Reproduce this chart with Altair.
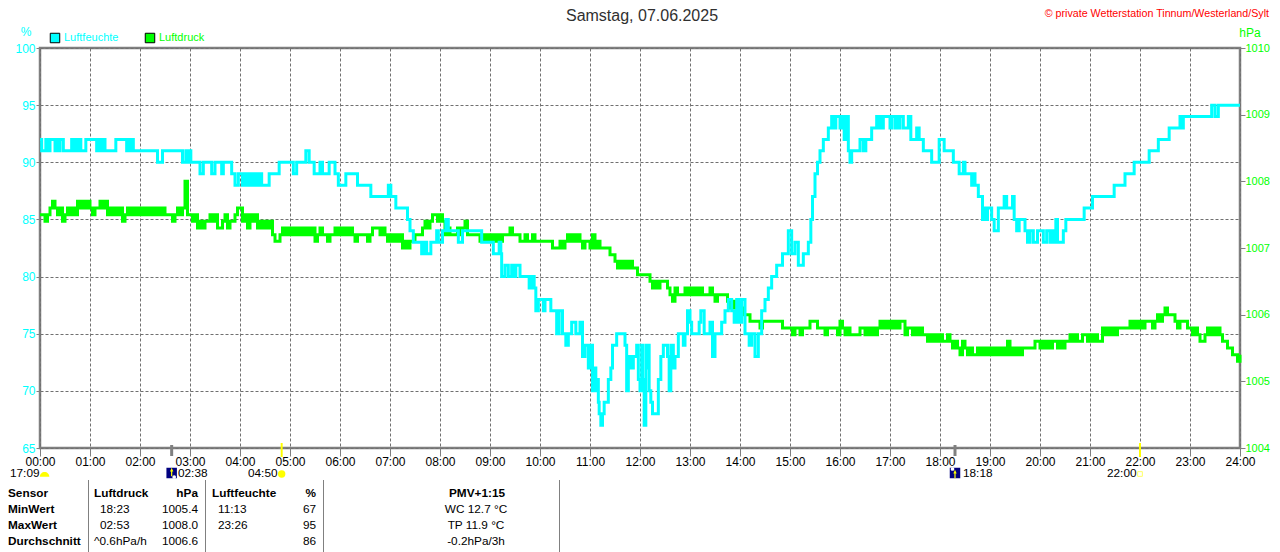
import altair as alt
import pandas as pd

FONT = "Liberation Sans"
GRAY = "#808080"
GRID = "#707070"
CYAN = "#00FFFF"
LIME = "#00FF00"

# (minute of day, % relative humidity)
humidity = [
 (0,92),(2,91),(7,92),(10,91),(12,92),(18,91),(21,92),(23,91),(24,92),(28,91),(38,92),(40,91),(42,92),(44,91),
 (46,92),(49,91),(55,92),(68,91),(71,92),(73,91),(75,92),(78,91),(91,92),(104,91),(106,92),(108,91),(110,92),
 (112,91),(141,90),(147,91),(171,90),(175,91),(177,90),(179,91),(181,90),(192,89),(196,90),(206,89),(210,90),
 (218,89),(220,90),(230,89),(234,88),(238,89),(243,88),(246,89),(249,88),(251,89),(253,88),(256,89),(258,88),
 (260,89),(262,88),(264,89),(266,88),(275,89),(287,90),(304,89),(308,90),(319,91),(323,90),(329,89),(336,90),
 (339,89),(347,90),(354,89),(358,88),(367,89),(381,88),(397,87),(418,88),(421,87),(427,86),(441,85),(444,84),
 (448,83),(458,82),(461,83),(464,82),(469,83),(476,84),(478,83),(483,84),(487,85),(490,84),(502,83),(507,84),
 (530,83),(544,82),(551,83),(553,82),(554,80),(558,81),(562,80),(566,81),(568,80),(571,81),(576,80),(587,79),
 (590,80),(593,79),(595,77),(598,78),(604,77),(606,78),(613,77),(620,75),(623,77),(627,75),(631,74),(634,75),
 (638,76),(643,75),(648,76),(651,73),(654,74),(658,72),(660,74),(663,70),(665,72),(667,70),(669,71),(670,69),
 (671,68),(673,67),(675,68),(677,69),(682,71),(685,72),(687,74),(692,75),(702,74),(704,70),(706,73),(709,72),
 (712,73),(716,74),(718,71),(720,70),(722,74),(723,71),(725,67),(727,74),(728,72),(729,74),(731,70),(733,69),
 (735,68),(742,71),(745,73),(748,74),(753,73),(755,70),(757,74),(760,72),(762,73),(766,75),(772,74),(774,75),
 (777,77),(780,76),(782,75),(788,75),(791,76),(793,77),(797,75),(804,76),(807,73),(810,75),(818,76),(822,77),
 (826,78),(830,77),(833,76),(836,78),(839,76),(842,78),(846,75),(851,74),(854,75),(858,73),(862,75),(866,77),
 (870,78),(874,79),(878,80),(884,81),(891,82),(898,84),(902,82),(906,83),(910,81),(916,82),(922,83),(925,85),
 (927,87),(930,89),(933,90),(936,91),(940,92),(946,93),(950,94),(952,93),(955,94),(960,93),(963,94),(965,92),
 (967,94),(970,91),(972,90),(974,91),(984,92),(988,91),(991,92),(998,93),(1004,94),(1006,93),(1008,94),
 (1010,93),(1012,94),(1020,93),(1022,94),(1026,93),(1028,94),(1030,93),(1032,94),(1036,93),(1042,94),(1045,92),
 (1052,93),(1055,92),(1060,91),(1070,90),(1079,92),(1085,91),(1096,90),(1103,89),(1108,90),(1110,89),(1118,88),
 (1120,89),(1122,88),(1126,87),(1131,85),(1133,86),(1135,85),(1137,86),(1142,85),(1145,84),(1150,86),(1157,87),
 (1160,86),(1167,87),(1169,85),(1172,84),(1175,85),(1182,84),(1185,83),(1188,84),(1192,83),(1197,84),
 (1204,83),(1208,84),(1212,83),(1215,84),(1217,83),(1219,85),(1221,83),(1228,84),(1231,85),(1253,86),
 (1263,87),(1289,88),(1302,89),(1313,90),(1331,91),(1342,92),(1355,93),(1368,94),(1370,93),(1372,94),
 (1406,95),(1410,94),(1414,95),(1440,95),
]

# Air pressure read every 3 minutes, in 0.1 hPa above 1000 hPa, one row per hour
pressure_tenths = [
 75,75,74,75,76,77,76,75,76,74,75,76,75,76,75,77,76,77,76,77,
 76,75,76,76,77,76,77,75,76,75,76,75,76,74,75,76,75,76,75,76,
 75,76,75,76,75,76,75,76,75,76,75,75,75,74,75,76,75,76,80,75,
 75,74,75,73,74,73,74,74,75,74,75,73,73,74,75,73,74,74,75,76,
 76,74,75,73,75,74,75,73,74,73,74,73,74,72,71,71,72,73,72,73,
 72,73,72,73,72,73,72,73,72,73,71,72,73,72,72,71,72,72,73,72,
 73,72,73,72,73,72,71,72,72,72,72,71,72,73,73,73,72,73,72,71,
 72,71,72,71,72,70,71,70,71,71,72,72,72,73,74,73,74,75,75,74,
 75,74,72,73,72,72,72,73,72,73,74,72,72,72,72,72,71,72,71,72,
 71,72,71,72,71,72,72,72,73,72,72,72,71,71,72,71,71,72,71,71,
 71,71,71,71,71,70,70,70,71,70,71,72,71,72,71,72,71,70,71,71,
 70,72,70,71,70,70,70,70,69,69,68,67,68,67,68,67,68,67,67,66,
 66,66,66,66,65,64,65,64,65,65,65,64,63,62,64,63,63,63,64,63,
 64,63,64,63,64,63,63,63,64,63,62,63,63,63,63,62,61,62,61,60,
 61,60,60,60,59,59,59,59,58,59,59,59,59,59,59,59,59,58,58,58,
 58,57,58,58,57,58,58,58,59,59,59,58,58,58,57,58,58,58,58,57,
 59,58,57,58,57,57,57,57,58,58,57,58,57,58,57,58,59,58,59,58,
 59,58,59,58,59,59,57,58,58,57,58,57,58,57,57,56,57,56,57,56,
 57,56,56,57,56,55,56,55,54,56,55,54,55,54,54,55,54,55,54,55,
 54,55,54,55,54,55,54,56,54,55,54,55,54,55,55,55,55,55,56,56,
 55,56,55,56,55,56,56,55,56,55,56,56,57,56,57,56,56,57,57,56,
 57,56,57,56,56,58,57,58,57,58,57,58,58,58,58,58,59,58,59,58,
 59,58,59,59,59,58,59,60,59,60,61,60,60,60,59,58,59,59,59,58,
 58,57,58,57,56,56,57,58,57,58,57,58,57,56,56,55,55,54,54,53,
 54,
]
SAMPLE_MINUTES = 3

hour_ticks = list(range(0, 1441, 60))
humidity_ticks = [65, 70, 75, 80, 85, 90, 95, 100]
pressure_ticks = [1004, 1005, 1006, 1007, 1008, 1009, 1010]
twilight_marks = [158, 1098]
sun_marks = [290, 1320]

table_text = [
 ("Sensor", 8, 493, "left", True), ("Luftdruck", 94, 493, "left", True), ("hPa", 198, 493, "right", True),
 ("Luftfeuchte", 212, 493, "left", True), ("%", 316, 493, "right", True), ("PMV+1:15", 477, 493, "center", True),
 ("MinWert", 8, 509, "left", True), ("18:23", 100, 509, "left", False), ("1005.4", 198, 509, "right", False),
 ("11:13", 218, 509, "left", False), ("67", 316, 509, "right", False), ("WC 12.7 °C", 476, 509, "center", False),
 ("MaxWert", 8, 525, "left", True), ("02:53", 100, 525, "left", False), ("1008.0", 198, 525, "right", False),
 ("23:26", 218, 525, "left", False), ("95", 316, 525, "right", False), ("TP 11.9 °C", 476, 525, "center", False),
 ("Durchschnitt", 8, 541, "left", True), ("^0.6hPa/h", 94, 541, "left", False), ("1006.6", 198, 541, "right", False),
 ("86", 316, 541, "right", False), ("-0.2hPa/3h", 476, 541, "center", False),
]


def label(text, px, py, align="left", color="black", size=11.8, bold=False):
    return alt.Chart(pd.DataFrame({"t": [text]})).mark_text(
        align=align, baseline="middle", font=FONT, fontSize=size, color=color,
        fontWeight="bold" if bold else "normal",
    ).encode(x=alt.value(px - 40), y=alt.value(py - 48), text="t:N")


def vrule(px, y0, y1):
    return alt.Chart(pd.DataFrame({"a": [0]})).mark_rule(color=GRAY, strokeWidth=1).encode(
        x=alt.value(px - 40), y=alt.value(y0 - 48), y2=alt.value(y1 - 48))


x_scale = alt.Scale(domain=[0, 1440], nice=False, zero=False)
x_enc = alt.X(
    "m:Q", scale=x_scale, title=None,
    axis=alt.Axis(values=hour_ticks, grid=True, gridColor=GRID, gridDash=[3, 2], gridOpacity=1, gridWidth=1,
                  domain=False, tickColor=GRAY, tickSize=8, tickWidth=1, labelColor="black", labelFont=FONT,
                  labelFontSize=12, labelPadding=0, labelFlush=False, labelOverlap=False, labelBound=False,
                  labelExpr="(floor(datum.value/60)<10?'0':'')+floor(datum.value/60)+':00'"),
)


def icon(minute, py, shape, fill, size, stroke=None):
    kw = dict(shape=shape, filled=True, fill=fill, size=size, opacity=1, strokeWidth=0)
    if stroke:
        kw = dict(shape=shape, filled=False, stroke=stroke, size=size, opacity=1, strokeWidth=1)
    return alt.Chart(pd.DataFrame({"m": [minute]})).mark_point(**kw).encode(x=x_enc, y=alt.value(py - 48))


def legend_box(px, color):
    return alt.Chart(pd.DataFrame({"a": [0]})).mark_point(
        shape="square", filled=True, fill=color, stroke="black", strokeWidth=1, size=90, opacity=1
    ).encode(x=alt.value(px - 40), y=alt.value(38 - 48))


press_df = pd.DataFrame({
    "m": [i * SAMPLE_MINUTES for i in range(len(pressure_tenths))],
    "v": [1000 + p / 10 for p in pressure_tenths],
})
hum_df = pd.DataFrame(humidity, columns=["m", "v"])

pressure_line = alt.Chart(press_df).mark_line(
    color=LIME, strokeWidth=3, interpolate="step-after", clip=False
).encode(
    x=x_enc,
    y=alt.Y("v:Q", scale=alt.Scale(domain=[1004, 1010], nice=False, zero=False), title=None,
            axis=alt.Axis(orient="right", values=pressure_ticks, grid=False, domain=False, tickColor=GRAY,
                          tickSize=5, labelColor=LIME, labelFont=FONT, labelFontSize=11, labelPadding=0,
                          format="d", labelOverlap=False, labelBound=False, labelFlush=False)),
)
humidity_line = alt.Chart(hum_df).mark_line(
    color=CYAN, strokeWidth=3, interpolate="step-after", clip=False
).encode(
    x=x_enc,
    y=alt.Y("v:Q", scale=alt.Scale(domain=[65, 100], nice=False, zero=False), title=None,
            axis=alt.Axis(orient="left", values=humidity_ticks, grid=True, gridColor=GRID, gridDash=[3, 2],
                          gridOpacity=1, domain=False, tickColor=GRAY, tickSize=4, labelColor=CYAN, labelFont=FONT,
                          labelFontSize=12, labelPadding=1, labelOverlap=False, labelBound=False, labelFlush=False)),
)

twilight = alt.Chart(pd.DataFrame({"m": twilight_marks})).mark_rule(color=GRAY, strokeWidth=3).encode(
    x=x_enc, y=alt.value(397), y2=alt.value(408))
sun = alt.Chart(pd.DataFrame({"m": sun_marks})).mark_rule(color="#FFFF00", strokeWidth=2).encode(
    x=x_enc, y=alt.value(395), y2=alt.value(409))

layers = [pressure_line, humidity_line, twilight, sun]
layers += [
    label("Samstag, 07.06.2025", 642, 16, "center", "#303030", 16),
    label("© private Wetterstation Tinnum/Westerland/Sylt", 1269, 14, "right", "#FF0000", 10.7),
    label("%", 26, 32, "center", CYAN, 12),
    label("hPa", 1250, 33, "center", LIME, 12),
    label("Luftfeuchte", 64, 38, "left", CYAN, 11),
    label("Luftdruck", 159, 38, "left", LIME, 11),
    legend_box(55, CYAN), legend_box(150, LIME),
    label("17:09", 10, 473), label("02:38", 178, 473), label("04:50", 248, 473),
    label("18:18", 963, 473), label("22:00", 1107, 473),
]
layers += [icon(5.5, 474, "M-1,0.6 A1,1 0 0 1 1,0.6 Z", "#FFFF00", 90)]
layers += [icon(158, 473, "square", "#000080", 110), icon(1098, 473, "square", "#000080", 110)]
layers += [icon(158, 472, "arrow", "#FFFF00", 70), icon(1098, 474, "arrow", "#FFFF00", 70)]
layers += [icon(161, 477, "circle", "#FFFFFF", 14), icon(1095, 469, "circle", "#FFFFFF", 14)]
layers += [icon(290, 474, "circle", "#FFFF00", 55), icon(1320, 474, "square", "#FFFFFF", 22, stroke="#FFFF66")]
layers += [vrule(88.5, 480, 552), vrule(205.5, 480, 552), vrule(323.5, 480, 552), vrule(559.5, 480, 552)]
layers += [label(t, x, y, a, bold=b) for t, x, y, a, b in table_text]

chart = alt.layer(*layers).resolve_scale(y="independent").properties(
    width=1200, height=400,
    padding={"left": 32, "top": 40, "right": 32, "bottom": 104},
    autosize=alt.AutoSizeParams(type="none"),
    background="white",
).configure_view(stroke=GRAY, strokeWidth=2.5)

chart.save("out.html", embed_options={"renderer": "svg", "actions": False})
